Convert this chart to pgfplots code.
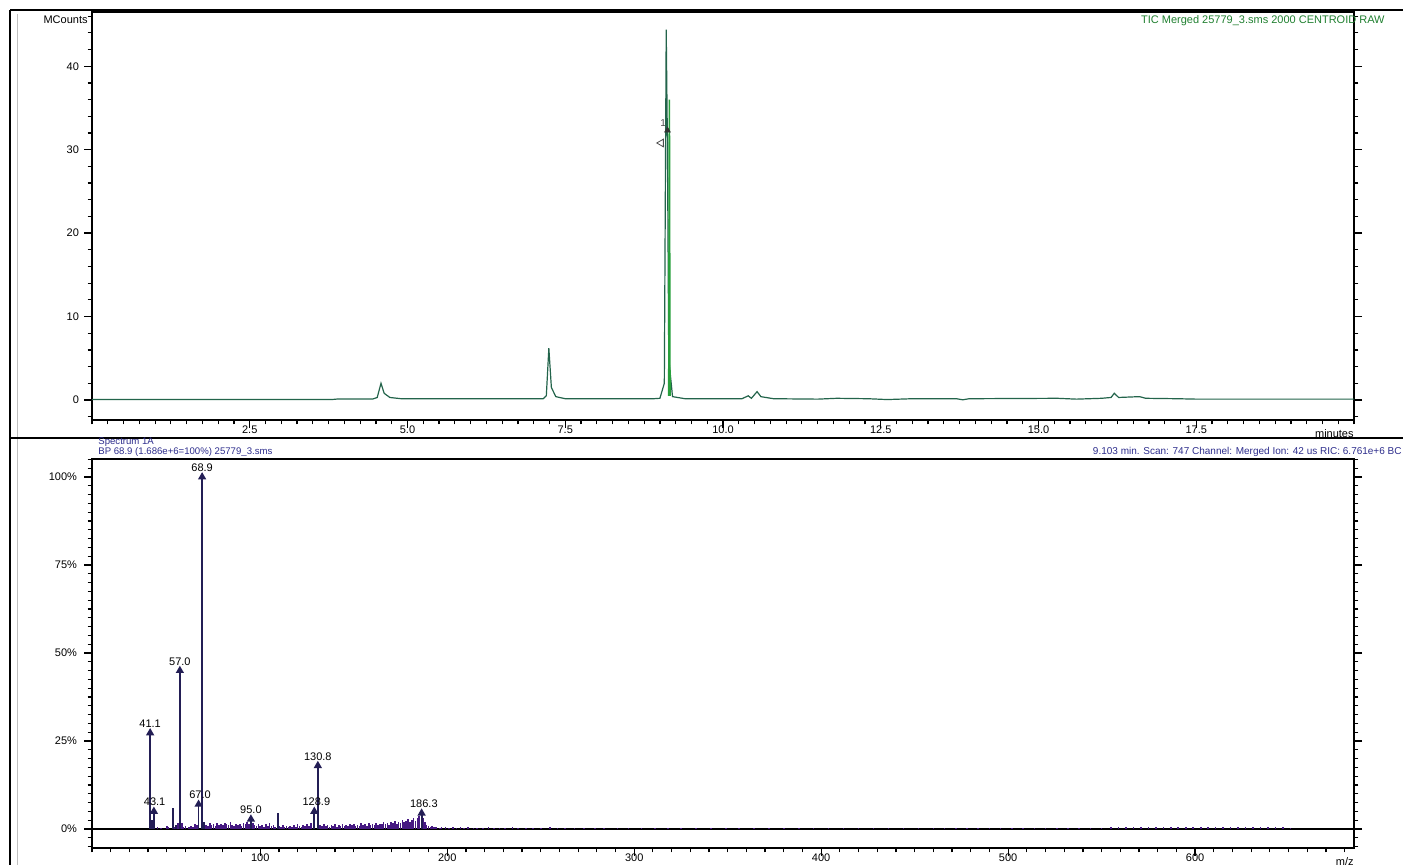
\documentclass[border=0pt]{standalone}
\usepackage{pgfplots}
\pgfplotsset{compat=1.18}
\usepackage{fontspec}
\setmainfont{Liberation Sans}
\definecolor{chrom}{RGB}{35,100,75}
\definecolor{chromlight}{RGB}{40,160,60}
\definecolor{specnoise}{RGB}{70,25,130}
\definecolor{specline}{RGB}{35,30,85}
\definecolor{hdr}{RGB}{45,45,140}

% chromatogram (minutes, MCounts)
\pgfplotstableread{
t c
0.0 0.05
3.8 0.05
3.9 0.12
4.45 0.12
4.52 0.3
4.58 2.0
4.63 0.8
4.72 0.3
4.9 0.15
6.0 0.15
7.15 0.15
7.2 0.5
7.24 6.2
7.28 1.5
7.35 0.4
7.5 0.15
8.9 0.15
9.0 0.2
9.07 2.0
9.10 44.4
9.12 30
9.14 5
9.2 0.4
9.4 0.15
10.3 0.15
10.4 0.5
10.45 0.2
10.54 1.0
10.6 0.4
10.8 0.15
11.5 0.1
11.8 0.2
12.3 0.15
12.6 0.05
13.0 0.15
13.7 0.15
13.8 0.02
13.9 0.15
15.3 0.2
15.6 0.1
16.0 0.2
16.15 0.3
16.2 0.8
16.27 0.3
16.6 0.4
16.7 0.2
17.2 0.15
17.5 0.1
20.0 0.1
}\chromtab

% spectrum background noise (m/z, %)
\pgfplotstableread{
m i
45 0.6
47 0.4
50 0.8
51 0.5
54 0.7
56 1.6
58 1.8
59 0.6
60 0.9
62 0.5
63 0.8
64 0.6
65 1.5
66 1.0
70 2.0
71 1.2
72 0.8
73 1.6
74 1.1
75 1.4
76 0.9
77 1.8
78 1.2
79 1.5
80 1.0
81 1.7
82 1.3
83 1.0
84 1.9
85 1.2
86 0.8
87 1.4
88 1.0
89 1.3
90 0.9
91 1.8
92 1.4
93 2.0
94 1.5
96 1.6
97 1.2
98 0.9
99 1.4
100 0.8
101 1.1
102 0.7
103 1.3
104 0.9
105 1.6
106 0.8
107 1.0
108 0.6
110 0.9
111 0.7
112 1.2
113 0.6
114 0.8
115 0.5
116 0.9
117 0.6
118 1.0
119 0.7
120 1.4
121 0.9
122 0.6
123 1.1
124 0.8
125 1.3
126 0.9
127 1.6
129 1.2
131 1.8
132 1.1
133 0.8
134 1.5
135 0.9
136 1.2
137 0.7
138 1.0
139 0.8
140 1.3
141 0.7
142 1.1
143 0.9
144 1.4
145 0.8
146 1.2
147 0.9
148 1.3
149 1.0
150 1.5
151 0.9
152 1.2
153 0.8
154 1.6
155 1.1
156 1.3
157 0.9
158 1.7
159 1.0
160 1.4
161 1.2
162 1.8
163 1.1
164 1.5
165 1.3
166 2.0
167 1.4
168 1.7
169 1.2
170 2.1
171 1.6
172 2.3
173 1.5
174 2.0
175 1.8
176 2.5
177 1.9
178 2.2
179 2.8
180 2.1
181 2.6
182 3.0
183 2.4
184 3.2
185 3.6
187 3.0
188 2.0
189 1.2
190 0.9
191 0.7
192 0.8
193 0.5
194 0.6
196 0.4
197 0.6
199 0.5
201 0.4
203 0.6
205 0.3
207 0.5
209 0.4
211 0.5
214 0.3
216 0.4
219 0.3
222 0.5
225 0.3
228 0.4
231 0.3
235 0.5
238 0.3
242 0.4
246 0.3
250 0.4
255 0.5
259 0.3
263 0.4
268 0.3
273 0.4
279 0.3
284 0.2
291 0.4
297 0.3
304 0.2
311 0.3
318 0.4
325 0.2
333 0.3
341 0.2
349 0.3
356 0.2
364 0.3
372 0.2
380 0.3
388 0.2
396 0.3
404 0.2
412 0.3
420 0.2
428 0.3
436 0.2
444 0.3
452 0.3
460 0.4
466 0.3
472 0.4
478 0.3
484 0.3
490 0.4
496 0.3
502 0.2
508 0.3
514 0.3
520 0.2
526 0.3
532 0.4
538 0.3
544 0.3
550 0.4
555 0.5
559 0.6
563 0.5
567 0.6
571 0.5
575 0.6
579 0.5
583 0.6
587 0.5
591 0.6
595 0.5
599 0.6
603 0.5
607 0.6
611 0.6
615 0.5
619 0.6
623 0.5
627 0.6
631 0.6
635 0.5
639 0.6
643 0.5
647 0.5
651 0.4
}\noisetab

\pgfplotsset{
  rmsstyle/.style={
    scale only axis,
    width=631pt,
    axis line style={black, line width=0.9pt},
    tick align=outside,
    xtick pos=bottom,
    ytick pos=both,
    major tick length=4pt,
    minor tick length=2.2pt,
    every tick/.style={black, line width=0.6pt},
    tick label style={font=\fontsize{5.5}{6}\selectfont},
    xticklabel style={yshift=4.8pt},
    /pgf/number format/assume math mode=true,
    clip=false,
  }
}

\begin{document}
\begin{tikzpicture}
\path[use as bounding box] (0,0) rectangle (701.5pt,-432.5pt);
% outer frame
\draw[black, line width=0.7pt] (5pt,-5pt) -- (701.5pt,-5pt);
\draw[black, line width=0.7pt] (5pt,-5pt) -- (5pt,-432.5pt);
\draw[black!25, line width=0.4pt] (8.5pt,-7pt) -- (8.5pt,-432.5pt);
\draw[black, line width=0.7pt] (5pt,-219pt) -- (701.5pt,-219pt);

% chromatogram
\begin{axis}[rmsstyle,
  at={(46pt,-210pt)}, anchor=south west,
  height=204pt,
  xmin=0, xmax=20, ymin=-2.4, ymax=46.5,
  xtick={2.5,5,7.5,10,12.5,15,17.5},
  xticklabels={2.5,5.0,7.5,10.0,12.5,15.0,17.5},
  minor xtick={0,0.25,...,20},
  ytick={0,10,20,30,40},
  minor ytick={-2,0,...,46},
  yticklabel style={xshift=1pt},
]
\addplot[chrom, line width=0.6pt] table[x=t, y=c] {\chromtab};
\addplot[chromlight, line width=0.8pt] coordinates {(9.14,0.5)(9.15,36)(9.16,0.5)};
\addplot[only marks, mark=triangle, mark size=2.2pt, mark options={rotate=90, black!70}] coordinates {(9.02,30.8)};
\addplot[only marks, mark=triangle*, mark size=1.6pt, mark options={black!80}] coordinates {(9.12,32.3)};
\node[font=\fontsize{5}{6}\selectfont, black!70] at (axis cs:9.05,33.2) {1};
\node[anchor=north east, font=\fontsize{5.5}{6}\selectfont, inner sep=0pt] at (rel axis cs:0,1) [yshift=-1.5pt, xshift=-2pt] {MCounts};
\node[anchor=north east, font=\fontsize{5.5}{6}\selectfont, inner sep=0pt] at (rel axis cs:1,0) [yshift=-4.5pt] {minutes};
\node[anchor=north east, font=\fontsize{5.5}{6}\selectfont, chromlight!80!black, inner sep=0pt] at (rel axis cs:1,1) [xshift=15.5pt, yshift=-1.5pt] {TIC Merged 25779\_3.sms 2000 CENTROID RAW};
\end{axis}

% mass spectrum
\begin{axis}[rmsstyle,
  at={(46pt,-424pt)}, anchor=south west,
  height=194.5pt,
  xmin=10, xmax=685, ymin=-5.4, ymax=105.1,
  xtick={100,200,300,400,500,600},
  minor xtick={10,20,...,680},
  ytick={0,25,50,75,100},
  yticklabels={0\%,25\%,50\%,75\%,100\%},
  minor ytick={-5,-2.5,...,105},
]
\addplot[black, line width=0.7pt] coordinates {(10,0)(685,0)};
\addplot[ycomb, specnoise, line width=0.8pt, mark=none] table[x=m, y=i] {\noisetab};
\addplot[ycomb, specline, line width=0.8pt, mark=none] coordinates {
  (42,2.5)(53.3,6.0)(55,1.2)(69.9,2.0)(109.5,4.5)};
\addplot[ycomb, specline, line width=0.9pt, mark=triangle*, mark size=1.5pt] coordinates {
  (41.1,27.3)(43.1,5.0)(57.0,45.0)(67.0,7.0)(68.9,100)(95.0,2.8)(128.9,5.0)(130.8,18.0)(186.3,4.5)};
\begin{scope}[every node/.style={font=\fontsize{5.5}{6}\selectfont, anchor=south, inner sep=0pt, yshift=2.5pt}]
\node at (axis cs:41.1,27.3) {41.1};
\node at (axis cs:43.5,5.0) {43.1};
\node at (axis cs:57.0,45.0) {57.0};
\node at (axis cs:67.8,7.0) {67.0};
\node at (axis cs:68.9,100) {68.9};
\node at (axis cs:95.0,2.8) {95.0};
\node at (axis cs:130.8,18.0) {130.8};
\node at (axis cs:130.0,5.0) {128.9};
\node at (axis cs:187.5,4.5) {186.3};
\end{scope}
\node[anchor=south west, align=left, font=\fontsize{4.8}{4.9}\selectfont, hdr, inner sep=0pt] at (rel axis cs:0,1) [xshift=3pt, yshift=1pt] {Spectrum 1A\\BP 68.9 (1.686e+6=100\%) 25779\_3.sms};
\node[anchor=south east, font=\fontsize{5}{5.6}\selectfont, hdr, inner sep=0pt] at (rel axis cs:1,1) [xshift=24pt, yshift=1pt] {9.103 min. Scan: 747 Channel: Merged Ion: 42 us RIC: 6.761e+6 BC};
\node[anchor=north east, font=\fontsize{5.5}{6}\selectfont, inner sep=0pt] at (rel axis cs:1,0) [yshift=-4.5pt] {m/z};
\end{axis}
\end{tikzpicture}
\end{document}
